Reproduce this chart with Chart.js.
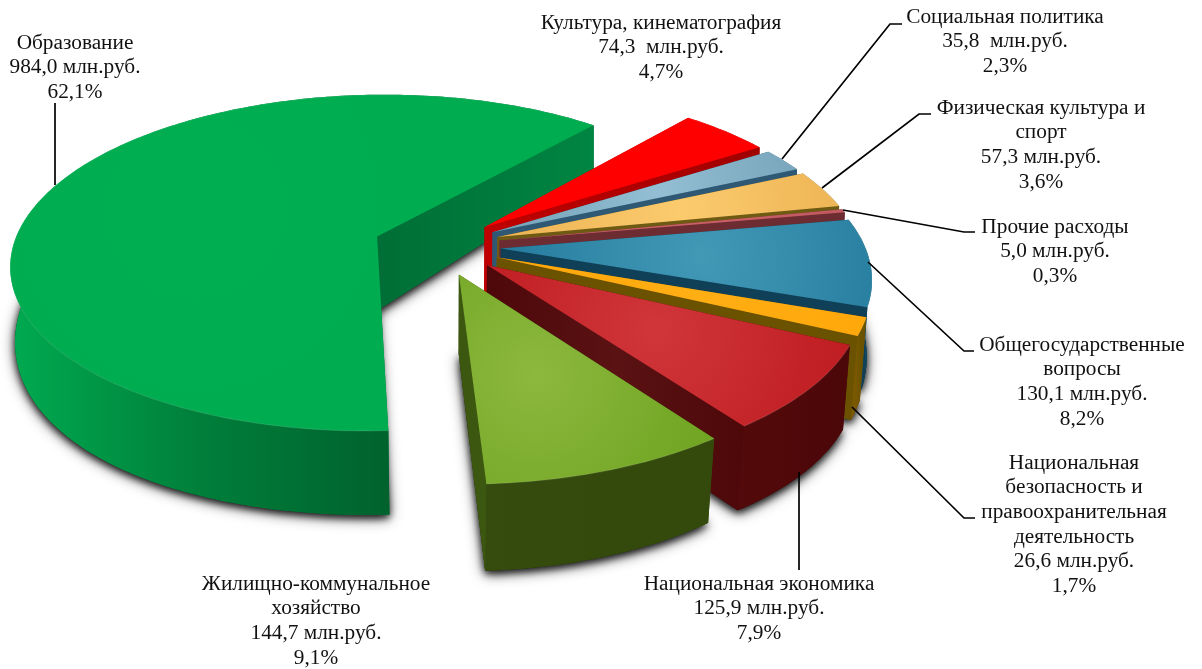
<!DOCTYPE html>
<html><head><meta charset="utf-8">
<style>html,body{margin:0;padding:0;background:#fff}#w{width:1202px;height:669px;position:relative}</style>
<script src="https://cdn.jsdelivr.net/npm/chart.js@4"></script>
</head><body><div id="w"><canvas id="c"></canvas></div>
<script>
// ---- data (clockwise from the bottom of the pie) ----
const categories = ["Образование","Культура, кинематография","Социальная политика","Физическая культура и спорт","Прочие расходы","Общегосударственные вопросы","Национальная безопасность и правоохранительная деятельность","Национальная экономика","Жилищно-коммунальное хозяйство"];
const values = [984.0,74.3,35.8,57.3,5.0,130.1,26.6,125.9,144.7];
const amountLabels = ["984,0 млн.руб.","74,3  млн.руб.","35,8  млн.руб.","57,3 млн.руб.","5,0 млн.руб.","130,1 млн.руб.","26,6 млн.руб.","125,9 млн.руб.","144,7 млн.руб."];
const percentLabels = ["62,1%","4,7%","2,3%","3,6%","0,3%","8,2%","1,7%","7,9%","9,1%"];
const nameLines = [["Образование"],["Культура, кинематография"],["Социальная политика"],["Физическая культура и","спорт"],["Прочие расходы"],["Общегосударственные","вопросы"],["Национальная","безопасность и","правоохранительная","деятельность"],["Национальная экономика"],["Жилищно-коммунальное","хозяйство"]];

// ---- styles ----
const topColors = [["#00AE52","#00AC50"],["#FF0000","#FF0000"],["#93BED3","#6A98AF"],["#FBCB6E","#E9AC4C"],["#CC6068","#BC565C"],["#4299B6","#21789A"],["#FFAE14","#FFA608"],["#D0363B","#BC191D"],["#8CB83E","#6AA01C"]];
const wallColors = [["#00A950","#007E3A","#00622D"],["#C00000","#A00000","#A00000"],["#2F5874","#2F5874","#2F5874"],["#6E5A12","#6E5A12","#6E5A12"],["#6C2C32","#6C2C32","#6C2C32"],["#0F4058","#0F4058","#12506A"],["#7A5800","#7A5800","#6B5200"],["#520A0B","#500809","#4C0708"],["#354C0E","#344A0C","#344A0C"]];
const endWallColors = [["#006E36","#008542"],["#C00000","#A00000"],["#2F5874","#2F5874"],["#6E5A12","#6E5A12"],["#6C2C32","#6C2C32"],["#0F4058","#0F4058"],["#6B5200","#6B5200"],["#4E0809","#5A1213","#4E0809"],["#3C5710","#3C5710"]];
const labelPlaces = [[75,43],[661,23],[1005,17],[1041,108],[1055,227],[1082,345],[1074,463],[759,584],[316,584]];
const leaders = [[[55,185],[55,103]],[],[[782,159],[890,24],[902,24]],[[822,188],[919,114],[931,114]],[[843,210],[964,232],[975,232]],[[868,262],[964,351],[974,351]],[[852,407],[964,518],[975,518]],[[799,472],[799,570]],[]];

// ---- view (perspective of the pie plane) ----
const CX=437, CY=246, RX=364, RY=167, P=0.157, Q=0.07, RB=192, YB=321;
function topPt(X,Y){const w=1-P*Y;return [CX+RX*X/w,CY+RY*Y/w];}
function botPt(X,Y){const t=topPt(X,Y),k=1-0.01-0.012*Y;return [CX+(t[0]-CX)*k,YB+RB*Y/(1-Q*Y)+30*Math.max(0,Y-0.95)];}
function trace(ctx,pts){pts.forEach((p,i)=>i?ctx.lineTo(p[0],p[1]):ctx.moveTo(p[0],p[1]));ctx.closePath();}
function hGrad(ctx,pts,cols){
  const xs=pts.map(p=>p[0]),a=Math.min(...xs),b=Math.max(...xs);
  const g=ctx.createLinearGradient(a,0,b+1,0);
  cols.forEach((c,i)=>g.addColorStop(i/(cols.length-1),c));return g;
}

const pie3d={id:'pie3d',
 beforeDatasetsDraw(chart){
  const ctx=chart.ctx,arcs=chart.getDatasetMeta(0).data;
  arcs.forEach((el,i)=>{
    const R=el.outerRadius,a0=el.startAngle,a1=el.endAngle,mid=(a0+a1)/2,d=el.options.offset/R;
    const ox=d*Math.cos(mid),oy=d*Math.sin(mid);
    const n=Math.max(8,Math.ceil((a1-a0)*60)),arc=[];
    for(let k=0;k<=n;k++){const t=a0+(a1-a0)*k/n;arc.push([ox+Math.cos(t),oy+Math.sin(t)]);}
    const tArc=arc.map(p=>topPt(p[0],p[1])),bArc=arc.map(p=>botPt(p[0],p[1]));
    const tA=topPt(ox,oy),bA=botPt(ox,oy);
    ctx.save();
    // soft shadow under the base
    [14,7].forEach(blur=>{
      ctx.save();ctx.shadowColor='rgba(0,0,0,0.75)';ctx.shadowBlur=blur;ctx.shadowOffsetY=3;
      ctx.fillStyle=wallColors[i][1];ctx.beginPath();trace(ctx,[bA,...bArc]);ctx.fill();ctx.restore();
    });
    // start wall
    ctx.fillStyle=wallColors[i][1];ctx.beginPath();trace(ctx,[tA,tArc[0],bArc[0],bA]);ctx.fill();
    // outer wall, shaded over the part that faces the viewer
    const ow=[...tArc,...bArc.slice().reverse()];
    const front=bArc.filter((p,k)=>arc[k][1]>oy);
    ctx.fillStyle=hGrad(ctx,front.length?front:ow,wallColors[i]);ctx.beginPath();trace(ctx,ow);ctx.fill();
    // end wall
    const ew=[tA,tArc[n],bArc[n],bA];
    ctx.fillStyle=hGrad(ctx,ew,endWallColors[i]);ctx.beginPath();trace(ctx,ew);ctx.fill();
    // top face
    const cw=topPt(ox+0.55*Math.cos(mid),oy+0.55*Math.sin(mid));
    const rg=ctx.createRadialGradient(cw[0],cw[1],0,cw[0],cw[1],0.62*RX);
    rg.addColorStop(0,topColors[i][0]);rg.addColorStop(1,topColors[i][1]);
    ctx.fillStyle=rg;ctx.beginPath();trace(ctx,[tA,...tArc]);ctx.fill();
    // rim highlight
    ctx.strokeStyle='rgba(255,255,255,0.10)';ctx.lineWidth=1.2;ctx.beginPath();
    tArc.forEach((p,k)=>k?ctx.lineTo(p[0],p[1]):ctx.moveTo(p[0],p[1]));ctx.stroke();
    ctx.restore();
  });
  return false;
 },
 afterDraw(chart){
  const ctx=chart.ctx;
  ctx.save();
  ctx.strokeStyle='#000';ctx.lineWidth=1.7;
  leaders.forEach(l=>{if(!l.length)return;ctx.beginPath();l.forEach((p,k)=>k?ctx.lineTo(p[0],p[1]):ctx.moveTo(p[0],p[1]));ctx.stroke();});
  ctx.fillStyle='#111';ctx.font='21.3px "Liberation Serif"';ctx.textAlign='center';ctx.textBaseline='middle';
  categories.forEach((c,i)=>{
    const lines=[...nameLines[i],amountLabels[i],percentLabels[i]];
    lines.forEach((t,k)=>ctx.fillText(t,labelPlaces[i][0],labelPlaces[i][1]+k*24.7));
  });
  ctx.restore();
 }
};

new Chart(document.getElementById('c'),{
 type:'pie',
 data:{labels:categories,datasets:[{data:values,offset:54,borderWidth:0,backgroundColor:topColors.map(c=>c[1])}]},
 options:{responsive:true,maintainAspectRatio:false,animation:false,events:[],rotation:177,
  plugins:{legend:{display:false},tooltip:{enabled:false}}},
 plugins:[pie3d]
});
</script></body></html>
